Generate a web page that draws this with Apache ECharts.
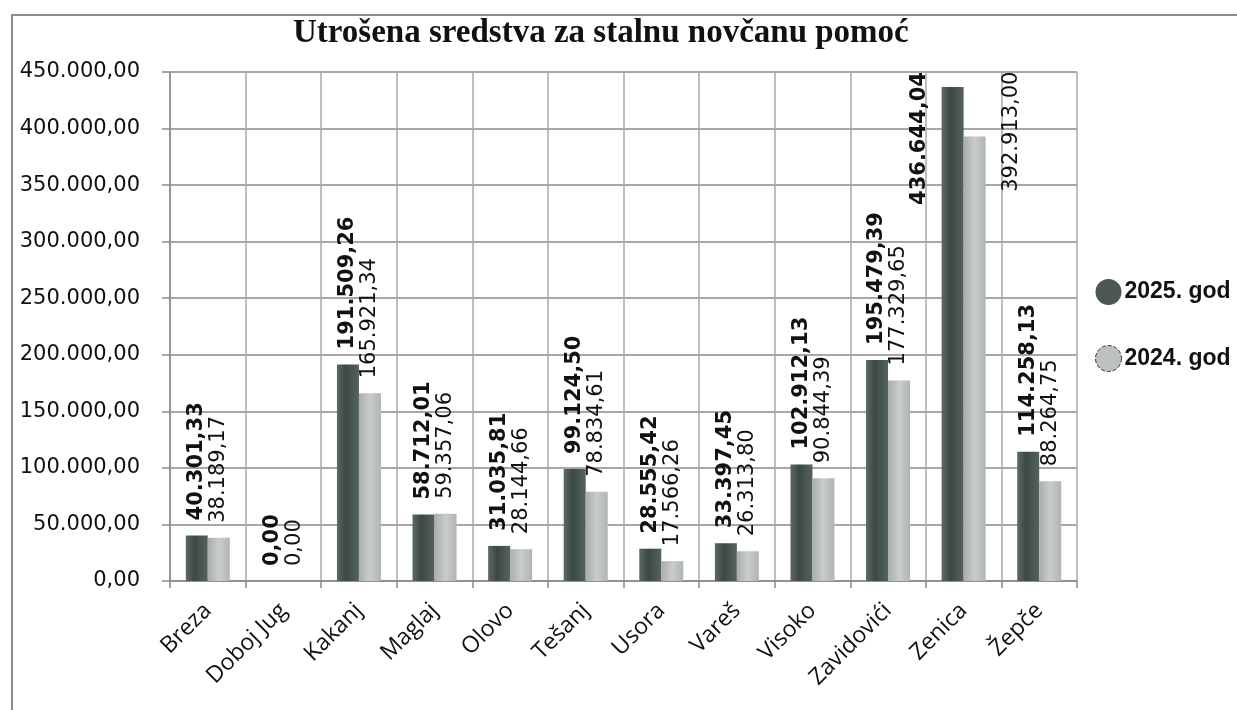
<!DOCTYPE html>
<html>
<head>
<meta charset="utf-8">
<script src="https://cdn.jsdelivr.net/npm/echarts@6/dist/echarts.min.js"></script>
<style>
  html, body { margin: 0; padding: 0; background: #fff; }
  #main { width: 1237px; height: 710px; }
</style>
</head>
<body>
<div id="main"></div>
<script>
    // podaci
    var opcine = ['Breza', 'Doboj Jug', 'Kakanj', 'Maglaj', 'Olovo', 'Tešanj', 'Usora', 'Vareš', 'Visoko', 'Zavidovići', 'Zenica', 'Žepče'];
    var god2025 = [40301.33, 0, 191509.26, 58712.01, 31035.81, 99124.50, 28555.42, 33397.45, 102912.13, 195479.39, 436644.04, 114258.13];
    var god2024 = [38189.17, 0, 165921.34, 59357.06, 28144.66, 78834.61, 17566.26, 26313.80, 90844.39, 177329.65, 392913.00, 88264.75];
    var nazivi = ['2025. god', '2024. god'];

    // 40301.33 -> "40.301,33"
    function fmt(v) {
        var p = Number(v).toFixed(2).split('.');
        return p[0].replace(/\B(?=(\d{3})+(?!\d))/g, '.') + ',' + p[1];
    }

    var tamna = new echarts.graphic.LinearGradient(0, 0, 1, 0, [
        {offset: 0, color: '#5d6966'}, {offset: 0.4, color: '#3b4845'}, {offset: 1, color: '#556260'}
    ]);
    var svijetla = new echarts.graphic.LinearGradient(0, 0, 1, 0, [
        {offset: 0, color: '#a9aead'}, {offset: 0.5, color: '#c8cccb'}, {offset: 1, color: '#b0b4b3'}
    ]);

    // Zenica - labele ne stanu iznad, pomjerene kao u originalu
    function podaci(arr, pomak) {
        return arr.map(function (v, i) {
            if (opcine[i] !== 'Zenica') return v;
            return {value: v, label: {align: 'right', offset: pomak}};
        });
    }

    var myChart = echarts.init(document.getElementById('main'));

    myChart.setOption({
        animation: false,
        title: {
            text: 'Utrošena sredstva za stalnu novčanu pomoć',
            left: 288,
            top: 12,
            textStyle: {
                fontFamily: 'Liberation Serif',
                fontWeight: 'bold',
                fontSize: 33,
                color: '#111'
            }
        },
        graphic: [{
            type: 'rect',
            shape: {x: 12, y: 15, width: 1300, height: 800},
            style: {fill: 'none', stroke: '#8c8c8c', lineWidth: 2},
            z: -1
        }],
        legend: {
            orient: 'vertical',
            left: 1090,
            top: 274,
            itemGap: 40,
            itemWidth: 26,
            itemHeight: 26,
            icon: 'circle',
            textStyle: {
                fontFamily: 'Liberation Sans',
                fontWeight: 'bold',
                fontSize: 23,
                color: '#111',
                padding: [0, 0, 0, -2]
            },
            data: [
                {name: nazivi[0], itemStyle: {color: '#4a5754'}},
                {name: nazivi[1], itemStyle: {color: '#bcc0bf', borderColor: '#333', borderWidth: 1, borderType: 'dashed'}}
            ]
        },
        grid: {
            left: 170,
            right: 160,
            top: 72,
            bottom: 129
        },
        xAxis: {
            type: 'category',
            data: opcine,
            axisLine: {lineStyle: {color: '#8a8a8a', width: 1.5}},
            axisTick: {show: true, length: 7, lineStyle: {color: '#8a8a8a', width: 1.5}},
            splitLine: {show: true, lineStyle: {color: '#a8a8a8', width: 1.5}},
            axisLabel: {
                rotate: 45,
                margin: 26,
                interval: 0,
                fontFamily: 'Open Sans',
                fontSize: 23,
                color: '#111'
            }
        },
        yAxis: {
            type: 'value',
            min: 0,
            max: 450000,
            interval: 50000,
            axisLine: {show: true, lineStyle: {color: '#8a8a8a', width: 1.5}},
            axisTick: {show: true, length: 8, lineStyle: {color: '#8a8a8a', width: 1.5}},
            splitLine: {lineStyle: {color: '#8a8a8a', width: 1.5}},
            axisLabel: {
                margin: 30,
                fontFamily: 'DejaVu Sans',
                fontSize: 21,
                color: '#111',
                formatter: fmt
            }
        },
        series: [{
            name: nazivi[0],
            type: 'bar',
            barWidth: 22,
            barGap: '0%',
            itemStyle: {color: tamna},
            label: {
                show: true,
                position: 'top',
                rotate: 90,
                align: 'left',
                verticalAlign: 'middle',
                distance: 15,
                fontFamily: 'DejaVu Sans',
                fontWeight: 'bold',
                fontSize: 21,
                color: '#111',
                formatter: function (p) { return fmt(p.value); }
            },
            data: podaci(god2025, [0, -33])
        }, {
            name: nazivi[1],
            type: 'bar',
            barWidth: 22,
            itemStyle: {color: svijetla},
            label: {
                show: true,
                position: 'top',
                rotate: 90,
                align: 'left',
                verticalAlign: 'middle',
                distance: 15,
                fontFamily: 'DejaVu Sans',
                fontSize: 21,
                color: '#111',
                formatter: function (p) { return fmt(p.value); }
            },
            data: podaci(god2024, [50, 37])
        }]
    });
</script>
</body>
</html>
